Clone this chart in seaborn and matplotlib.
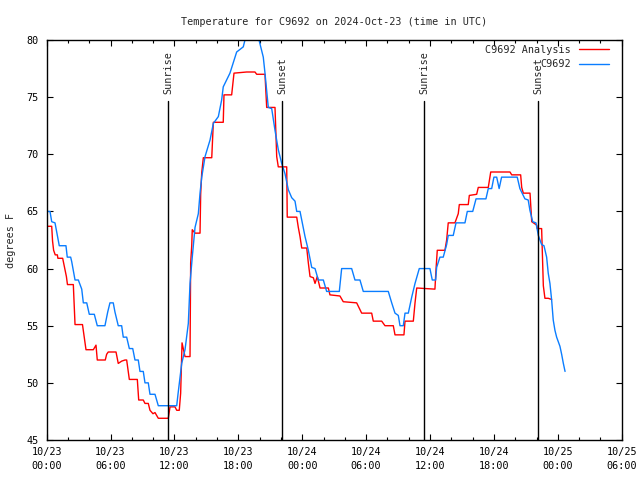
"""Station temperature vs. analysis, gnuplot-style, with sunrise/sunset markers."""

import matplotlib

matplotlib.use("Agg")
import matplotlib.dates as mdates
import matplotlib.pyplot as plt
import pandas as pd
import seaborn as sns

sns.set_theme(style="ticks")
plt.rcParams["font.family"] = ["DejaVu Sans Mono", "DejaVu Sans"]

START = pd.Timestamp("2024-10-23 00:00")
END = pd.Timestamp("2024-10-25 06:00")
STATION = "C9692"

# hours after START, degrees F
analysis_hours = [
    0.0, 0.47, 0.55, 0.65, 0.8, 1.0, 1.05, 1.5, 1.7, 1.85, 1.95, 2.5, 2.59, 2.66,
    3.36, 3.53, 3.69, 4.38, 4.63, 4.75, 5.5, 5.63, 5.78, 6.51, 6.72, 7.04, 7.35,
    7.51, 7.66, 7.76, 8.51, 8.64, 9.07, 9.23, 9.54, 9.7, 9.98, 10.17, 10.48, 11.42,
    11.58, 12.05, 12.21, 12.45, 12.58, 12.71, 12.83, 12.99, 13.46, 13.52, 13.62,
    13.67, 13.93, 14.4, 14.46, 14.56, 14.71, 15.5, 15.65, 16.58, 16.65, 17.37,
    17.59, 18.78, 19.56, 19.72, 20.5, 20.66, 21.44, 21.6, 21.75, 22.54, 22.59,
    23.48, 23.63, 23.79, 23.95, 24.42, 24.57, 24.73, 25.04, 25.2, 25.41, 25.67,
    26.45, 26.6, 27.54, 27.85, 29.11, 29.58, 30.52, 30.67, 31.46, 31.77, 32.55,
    32.71, 33.55, 33.65, 34.43, 34.59, 34.75, 36.46, 36.56, 36.68, 37.4, 37.56,
    37.71, 38.34, 38.65, 38.75, 39.59, 39.69, 40.38, 40.53, 41.47, 41.7, 43.51,
    43.67, 44.51, 44.61, 44.76, 45.39, 45.55, 46.02, 46.07, 46.48, 46.64, 46.79,
    47.1, 47.42,
]
analysis_temps = [
    63.7, 63.7, 62.4, 61.6, 61.2, 61.2, 60.9, 60.9, 60.0, 59.3, 58.6, 58.6, 56.5, 55.1,
    55.1, 54.0, 52.9, 52.9, 53.3, 52.0, 52.0, 52.5, 52.7, 52.7, 51.7, 51.9, 52.0,
    52.0, 51.0, 50.3, 50.3, 48.5, 48.5, 48.2, 48.2, 47.6, 47.3, 47.4, 46.9, 46.9,
    47.9, 47.9, 47.6, 47.6, 49.1, 53.5, 53.0, 52.3, 52.3, 60.5, 62.0,
    63.4, 63.1, 63.1, 66.5, 68.4, 69.7, 69.7, 72.8, 72.8, 75.2, 75.2,
    77.1, 77.2, 77.2, 77.0, 77.0, 74.1, 74.1, 69.8, 68.9, 68.9, 64.5,
    64.5, 63.6, 62.8, 61.8, 61.8, 60.5, 59.3, 59.2, 58.7, 59.3, 58.3,
    58.3, 57.7, 57.6, 57.1, 57.0, 56.1, 56.1, 55.4, 55.4, 55.0, 55.0,
    54.2, 54.2, 55.4, 55.4, 57.0, 58.3, 58.2, 59.9, 61.6, 61.6, 62.5,
    64.0, 64.0, 64.8, 65.6, 65.6, 66.4, 66.5, 67.1, 67.1, 68.45, 68.45,
    68.2, 68.2, 67.1, 66.6, 66.6, 64.1, 63.8, 63.5, 63.5, 58.5, 57.4,
    57.4, 57.3,
]

obs_hours = [
    0.0, 0.31, 0.47, 0.78, 0.94, 1.18, 1.81, 1.93, 2.25, 2.35, 2.66, 2.97, 3.29,
    3.44, 3.76, 4.0, 4.47, 4.75, 5.47, 5.73, 5.94, 6.25, 6.41, 6.72, 7.04, 7.19,
    7.51, 7.76, 8.08, 8.29, 8.6, 8.76, 9.07, 9.23, 9.54, 9.7, 10.17, 10.48, 12.21,
    12.33, 12.68, 12.99, 13.3, 13.46, 13.67, 13.93, 14.24, 14.4, 14.56, 14.87,
    15.34, 15.65, 16.12, 16.43, 16.58, 17.21, 17.84, 18.46, 18.62, 19.28, 19.94,
    20.34, 20.5, 20.81, 21.13, 21.44, 21.75, 22.07, 22.38, 22.69, 23.01, 23.32,
    23.48, 23.79, 23.95, 24.26, 24.57, 24.89, 25.2, 25.51, 25.98, 26.29, 27.48,
    27.7, 28.64, 28.95, 29.42, 29.73, 32.08, 32.4, 32.71, 33.02, 33.18, 33.49,
    33.65, 33.96, 34.28, 34.59, 34.99, 35.99, 36.21, 36.53, 36.62, 36.93, 37.24,
    37.56, 37.71, 38.18, 38.44, 39.28, 39.5, 40.01, 40.32, 41.25, 41.47, 41.79,
    42.0, 42.26, 42.49, 42.72, 44.19, 44.44, 44.91, 45.22, 45.38, 45.64, 45.95,
    46.17, 46.48, 46.7, 46.95, 47.1, 47.26, 47.42, 47.57, 47.73, 47.89, 48.2,
    48.36, 48.52, 48.68,
]
obs_temps = [
    65.0, 65.0, 64.1, 64.0, 63.2, 62.0, 62.0, 61.0, 61.0, 60.6, 59.0, 59.0, 58.2,
    57.0, 57.0, 56.0, 56.0, 55.0, 55.0, 56.2, 57.0, 57.0, 56.2, 55.0, 55.0, 54.0,
    54.0, 53.0, 53.0, 52.0, 52.0, 51.0, 51.0, 50.0, 50.0, 49.0, 49.0, 48.0, 48.0,
    49.0, 51.7, 52.9, 55.2, 58.7, 61.0, 63.6, 64.8, 66.6, 68.0, 69.8,
    71.25, 72.7, 73.3, 74.75, 75.9, 77.1, 78.95, 79.4, 80.0, 81.0, 80.0,
    78.5, 77.1, 74.1, 74.0, 72.1, 70.4, 69.2, 68.3, 66.9, 66.2, 65.9,
    65.0, 65.0, 64.25, 62.8, 61.6, 60.1, 60.0, 59.0, 59.0, 58.0, 58.0,
    60.0, 60.0, 59.0, 59.0, 58.0, 58.0, 57.0, 56.1, 55.9, 55.0, 55.0,
    56.1, 56.1, 57.5, 58.7, 60.0, 60.0, 59.0, 59.0, 60.1, 61.0, 61.0,
    62.1, 62.9, 62.9, 64.0, 64.0, 65.0, 65.0, 66.1, 66.1, 67.0, 67.0,
    68.0, 68.0, 67.0, 68.0, 68.0, 67.0, 66.1, 66.0, 65.1, 64.1, 64.0,
    62.9, 62.1, 62.0, 61.0, 59.6, 58.7, 57.25, 55.5, 54.6, 54.0, 53.2,
    52.5, 51.7, 51.0,
]

sun_labels = ["Sunrise", "Sunset", "Sunrise", "Sunset"]
sun_times = ["2024-10-23 11:25", "2024-10-23 22:08",
             "2024-10-24 11:28", "2024-10-24 22:10"]

analysis = pd.DataFrame({
    "time": START + pd.to_timedelta(analysis_hours, unit="h"),
    "temp": analysis_temps,
})
obs = pd.DataFrame({
    "time": START + pd.to_timedelta(obs_hours, unit="h"),
    "temp": obs_temps,
})

fig = plt.figure(figsize=(6.4, 4.8), dpi=100)
ax = fig.add_axes([46.7 / 640, 40 / 480, 575 / 640, 400 / 480])

sns.lineplot(data=analysis, x="time", y="temp", color="#ff0000", lw=1.0,
             sort=False, estimator=None, label=f"{STATION} Analysis", ax=ax)
sns.lineplot(data=obs, x="time", y="temp", color="#0a7dff", lw=1.0,
             sort=False, estimator=None, label=STATION, ax=ax)

for name, t in zip(sun_labels, sun_times):
    t = pd.Timestamp(t)
    ax.plot([t, t], [45, 74.7], color="black", lw=1.0)
    ax.text(t, 75.3, name, rotation=90, ha="center", va="bottom", fontsize=7.3)

ax.set_xlim(START, END)
ax.set_ylim(45, 80)
ax.set_yticks(range(45, 81, 5))
ax.xaxis.set_major_locator(mdates.HourLocator(byhour=[0, 6, 12, 18]))
ax.xaxis.set_minor_locator(mdates.HourLocator(byhour=range(0, 24, 2)))
ax.xaxis.set_major_formatter(mdates.DateFormatter("%m/%d\n%H:%M"))
ax.tick_params(which="both", direction="in", top=True, right=True,
               labelsize=7.3, width=0.8, color="black", labelcolor="black")
ax.tick_params(which="major", length=4, pad=5)
ax.tick_params(which="minor", length=2)
ax.tick_params(axis="y", pad=6)
for side in ax.spines.values():
    side.set_linewidth(1.0)
    side.set_color("black")

ax.set_xlabel("")
ax.set_ylabel("degrees F", fontsize=7.3, labelpad=7)
ax.set_title(f"Temperature for {STATION} on 2024-Oct-23 (time in UTC)",
             fontsize=7.3, pad=11)

fig.canvas.draw()
for lab in ax.get_xticklabels():
    lab.set_linespacing(1.5)

ax.legend(loc="upper right", frameon=False, markerfirst=False, fontsize=7.3,
          handlelength=2.9, handletextpad=0.8, labelspacing=0.45,
          borderaxespad=0.2, borderpad=0.25, bbox_to_anchor=(0.985, 1.0))

fig.savefig("out.png", dpi=100)
